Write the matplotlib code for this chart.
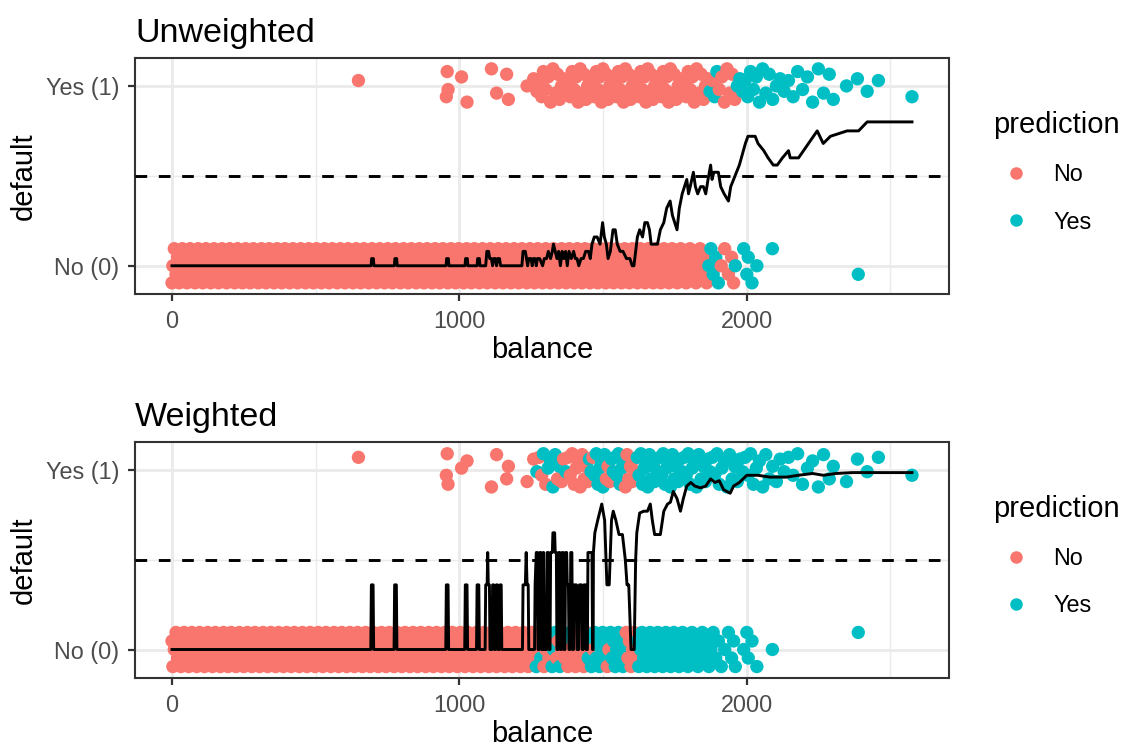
import numpy as np
import matplotlib
matplotlib.use('Agg')
import matplotlib.pyplot as plt
from matplotlib.lines import Line2D

plt.rcParams['font.family'] = ['Liberation Sans', 'DejaVu Sans']

RED = '#F8766D'
CYAN = '#00BFC4'

# balance of customers who did not default (default = 0)
no_balance = [
    0, 3, 8, 14, 19, 25, 31, 36, 42, 47, 52, 58, 63, 69, 74, 80, 86, 91, 96,
    102, 107, 113, 118, 124, 129, 135, 141, 146, 151, 157, 162, 168, 174, 179, 184, 190, 195,
    201, 206, 212, 218, 223, 228, 234, 239, 245, 250, 256, 262, 267, 272, 278, 283, 289, 294,
    300, 305, 311, 317, 322, 327, 333, 338, 344, 349, 355, 361, 366, 371, 377, 382, 388, 393, 399,
    404, 410, 415, 421, 426, 432, 437, 443, 448, 454, 459, 465, 470, 476, 481, 487, 492, 498,
    503, 509, 514, 520, 525, 531, 536, 542, 547, 553, 558, 564, 569, 575, 580, 586, 591, 597,
    602, 608, 613, 619, 624, 630, 635, 641, 646, 652, 657, 663, 668, 674, 679, 685, 690, 696,
    701, 707, 712, 718, 723, 729, 734, 740, 745, 751, 756, 762, 767, 773, 778, 784, 789, 795,
    800, 806, 811, 817, 822, 828, 833, 839, 844, 850, 855, 861, 866, 872, 877, 883, 888, 894, 899,
    905, 910, 916, 921, 927, 932, 938, 943, 949, 954, 960, 965, 971, 976, 982, 987, 993, 998,
    1004, 1009, 1015, 1020, 1026, 1031, 1037, 1042, 1048, 1053, 1059, 1064, 1070, 1075, 1081, 1086, 1092, 1097,
    1103, 1108, 1114, 1119, 1125, 1130, 1136, 1141, 1147, 1152, 1158, 1163, 1169, 1174, 1180, 1185, 1191, 1196,
    1202, 1207, 1213, 1218, 1224, 1229, 1235, 1240, 1246, 1251, 1257, 1262, 1268, 1273, 1279, 1284, 1290, 1295,
    1301, 1306, 1312, 1317, 1323, 1328, 1334, 1339, 1345, 1350, 1356, 1361, 1367, 1372, 1378, 1383, 1389, 1394,
    1400, 1405, 1411, 1416, 1422, 1427, 1433, 1438, 1444, 1449, 1455, 1460, 1466, 1471, 1477, 1482, 1488, 1493, 1499,
    1504, 1510, 1515, 1521, 1526, 1532, 1537, 1543, 1548, 1554, 1559, 1565, 1570, 1576, 1581, 1587, 1592, 1598,
    1603, 1609, 1614, 1620, 1625, 1631, 1636, 1642, 1647, 1653, 1658, 1664, 1669, 1675, 1680, 1686, 1691, 1697,
    1702, 1708, 1713, 1719, 1724, 1730, 1736, 1741, 1747, 1753, 1759, 1765, 1771, 1777, 1783, 1790, 1796,
    1803, 1810, 1817, 1824, 1831, 1838, 1846,
    1853, 1861, 1869, 1876, 1884, 1893, 1902, 1912, 1924, 1937, 1948, 1955, 1961,
    1990, 2001, 2006, 2019, 2036, 2090, 2389,
]

# balance of customers who defaulted (default = 1)
yes_balance = [
    649, 955, 958, 961, 1008, 1027, 1112, 1130, 1165, 1171, 1236, 1259,
    1270, 1278, 1287, 1293, 1301, 1309, 1318, 1326, 1334, 1342, 1349, 1356, 1363, 1371,
    1379, 1386, 1393, 1400, 1407, 1414, 1421, 1428, 1435, 1441, 1447, 1453, 1459, 1465,
    1471, 1477, 1483, 1489, 1495, 1500, 1506, 1512, 1518, 1524, 1530, 1536, 1542, 1548,
    1554, 1560, 1566, 1572, 1578, 1584, 1590, 1596, 1602, 1608, 1614, 1620, 1626, 1632,
    1638, 1644, 1650, 1656, 1662, 1668, 1674, 1680, 1686, 1692, 1698, 1704, 1710, 1716,
    1722, 1729, 1735, 1742, 1748, 1755, 1762, 1769, 1776, 1783, 1790, 1797, 1804, 1811,
    1818, 1826, 1834, 1842, 1850, 1857, 1865, 1873, 1881, 1889, 1897, 1905, 1914, 1923,
    1932, 1941, 1950, 1959, 1968, 1977, 1986, 1995, 2004, 2014, 2024, 2034, 2045, 2056,
    2067, 2079, 2091, 2104, 2117, 2131, 2146, 2162, 2178, 2195, 2212, 2230, 2250, 2268,
    2288, 2302, 2348, 2386, 2420, 2459, 2576,
]

# fitted P(default) along balance, (balance, probability)
unweighted_curve = [
    (0, 0), (693, 0), (695, 0.04), (701, 0.04), (703, 0),
    (774, 0), (776, 0.04), (782, 0.04), (784, 0),
    (954, 0), (956, 0.04), (962, 0.04), (964, 0),
    (1020, 0), (1022, 0.04), (1028, 0.04), (1030, 0),
    (1062, 0), (1064, 0.04), (1070, 0.04), (1072, 0),
    (1092, 0), (1096, 0.08), (1102, 0.08), (1106, 0.04), (1112, 0.04), (1116, 0),
    (1120, 0.04), (1126, 0.04), (1130, 0), (1134, 0.04), (1140, 0.04), (1144, 0),
    (1218, 0), (1222, 0.08), (1230, 0.08), (1234, 0.04), (1238, 0), (1242, 0.04),
    (1250, 0.04), (1254, 0), (1258, 0.04), (1264, 0.04), (1268, 0), (1272, 0.04),
    (1280, 0.04), (1290, 0), (1296, 0.04), (1304, 0.04), (1310, 0.08), (1318, 0.04),
    (1324, 0.08), (1328, 0.12), (1334, 0.08), (1340, 0.04), (1346, 0.08), (1352, 0),
    (1358, 0.08), (1364, 0.04), (1370, 0.08), (1376, 0), (1382, 0.08), (1390, 0.04),
    (1398, 0.08), (1404, 0.04), (1410, 0.04), (1416, 0), (1424, 0.04), (1432, 0.04),
    (1440, 0.08), (1450, 0.08), (1456, 0.04), (1462, 0.12), (1470, 0.16), (1480, 0.16),
    (1490, 0.12), (1499, 0.24), (1505, 0.16), (1512, 0.12), (1518, 0.04), (1526, 0.08),
    (1535, 0.2), (1543, 0.2), (1550, 0.12), (1560, 0.08), (1570, 0.08), (1582, 0.04),
    (1594, 0.04), (1602, 0), (1608, 0), (1614, 0.08), (1620, 0.16), (1628, 0.2),
    (1638, 0.16), (1646, 0.24), (1655, 0.24), (1662, 0.2), (1668, 0.12), (1690, 0.12),
    (1700, 0.2), (1712, 0.24), (1722, 0.32), (1734, 0.36), (1742, 0.28), (1750, 0.24),
    (1758, 0.2), (1766, 0.32), (1776, 0.4), (1784, 0.44), (1792, 0.48), (1798, 0.4),
    (1804, 0.44), (1815, 0.52), (1822, 0.44), (1830, 0.4), (1840, 0.44), (1850, 0.44),
    (1858, 0.4), (1866, 0.48), (1875, 0.56), (1880, 0.48), (1886, 0.52), (1902, 0.52),
    (1910, 0.44), (1922, 0.4), (1937, 0.36), (1945, 0.44), (1955, 0.48), (1965, 0.52),
    (1975, 0.56), (1982, 0.6), (1989, 0.64), (1996, 0.68), (2005, 0.72), (2030, 0.72),
    (2040, 0.68), (2060, 0.64), (2075, 0.6), (2093, 0.56), (2107, 0.56), (2125, 0.6),
    (2146, 0.64), (2152, 0.6), (2181, 0.6), (2246, 0.75), (2267, 0.68), (2292, 0.72),
    (2350, 0.75), (2390, 0.75), (2420, 0.8), (2576, 0.8),
]

weighted_curve = [
    (0, 0), (692, 0), (694, 0.36), (700, 0.36), (702, 0),
    (773, 0), (775, 0.36), (781, 0.36), (783, 0),
    (953, 0), (955, 0.36), (961, 0.36), (963, 0),
    (1019, 0), (1021, 0.36), (1027, 0.36), (1029, 0),
    (1060, 0), (1062, 0.36), (1068, 0.36), (1070, 0),
    (1090, 0), (1092, 0.36), (1097, 0.36), (1099, 0.54), (1101, 0.36), (1105, 0.36), (1107, 0),
    (1114, 0), (1116, 0.36), (1120, 0.36), (1122, 0), (1127, 0), (1129, 0.36), (1133, 0.36),
    (1135, 0), (1140, 0), (1142, 0.36), (1146, 0.36), (1148, 0),
    (1220, 0), (1222, 0.36), (1230, 0.36), (1233, 0.54), (1236, 0.36), (1240, 0.36), (1242, 0),
    (1262, 0), (1264, 0.36), (1268, 0.54), (1272, 0.54), (1274, 0), (1278, 0), (1280, 0.54),
    (1284, 0.54), (1286, 0), (1290, 0), (1292, 0.54), (1294, 0.54), (1296, 0), (1304, 0),
    (1306, 0.54), (1310, 0.54), (1312, 0), (1316, 0), (1318, 0.54), (1324, 0.54), (1326, 0.65),
    (1332, 0.65), (1334, 0.54), (1338, 0.54), (1340, 0), (1344, 0), (1346, 0.54), (1350, 0.54),
    (1352, 0), (1356, 0), (1358, 0.54), (1362, 0.54), (1364, 0), (1368, 0), (1370, 0.54),
    (1374, 0.54), (1376, 0.36), (1380, 0.36), (1382, 0), (1386, 0), (1388, 0.54), (1392, 0.54),
    (1394, 0), (1398, 0), (1400, 0.36), (1408, 0.36), (1410, 0), (1416, 0), (1418, 0.36),
    (1426, 0.36), (1428, 0), (1432, 0), (1434, 0.36), (1440, 0.36), (1442, 0), (1446, 0),
    (1448, 0.54), (1462, 0.54), (1464, 0), (1466, 0), (1467, 0.54), (1472, 0.65), (1482, 0.72),
    (1496, 0.81), (1506, 0.72), (1514, 0.36), (1522, 0.36), (1530, 0.72), (1536, 0.77),
    (1545, 0.72), (1556, 0.64), (1568, 0.64), (1578, 0.5), (1584, 0.36), (1590, 0.36),
    (1598, 0), (1609, 0), (1614, 0.5), (1618, 0.65), (1628, 0.76), (1642, 0.77), (1655, 0.77),
    (1665, 0.81), (1672, 0.72), (1680, 0.64), (1700, 0.64), (1712, 0.77), (1725, 0.81),
    (1735, 0.82), (1745, 0.88), (1758, 0.84), (1770, 0.77), (1780, 0.84), (1792, 0.91),
    (1806, 0.93), (1820, 0.91), (1840, 0.9), (1858, 0.91), (1875, 0.95), (1890, 0.93),
    (1905, 0.94), (1920, 0.89), (1943, 0.87), (1955, 0.91), (1975, 0.93), (2001, 0.97),
    (2040, 0.97), (2080, 0.96), (2140, 0.96), (2180, 0.97), (2230, 0.98), (2268, 0.97),
    (2310, 0.98), (2370, 0.985), (2576, 0.985),
]

panels = [('Unweighted', unweighted_curve), ('Weighted', weighted_curve)]

# vertical jitter (like geom_jitter), a fixed pattern per panel
band_jitter = [[-0.095, 0.0, 0.095, -0.0475, 0.0475],
               [0.0475, -0.095, 0.0, 0.095, -0.0475]]
yes_jitter = [[0.03, -0.06, 0.08, -0.02, 0.05, -0.09, 0.095, -0.04, 0.065, -0.075, 0.0, 0.04, -0.03],
              [0.07, -0.03, 0.09, -0.08, 0.01, 0.05, -0.095, 0.085, -0.05, 0.02, -0.065, 0.06, -0.01]]

W, H = 1123, 747
fig = plt.figure(figsize=(W / 100, H / 100), dpi=100)
boxes = [(135, 57.7, 949, 294), (135, 441.7, 949, 677.7)]

xb = np.array(no_balance + yes_balance, dtype=float)
yb = np.array([0] * len(no_balance) + [1] * len(yes_balance), dtype=float)

for k, (title, curve) in enumerate(panels):
    l, t, r, b = boxes[k]
    ax = fig.add_axes([l / W, 1 - b / H, (r - l) / W, (b - t) / H])

    cb = np.array([c[0] for c in curve], dtype=float)
    cp = np.array([c[1] for c in curve], dtype=float)

    jit = np.concatenate([np.resize(band_jitter[k], len(no_balance)),
                          np.resize(yes_jitter[k], len(yes_balance))])
    pred = np.interp(xb, cb, cp) > 0.5
    colors = np.where(pred, CYAN, RED)

    ax.scatter(xb, yb + jit, s=92, c=colors, linewidths=0, zorder=2)
    ax.plot(cb, cp, color='black', lw=2.1, zorder=3)
    ax.axhline(0.5, color='black', lw=2.1, dashes=(4, 4), zorder=4)

    ax.set_xlim(-128.8, 2704.8)
    ax.set_ylim(-0.157, 1.157)
    ax.set_xticks([0, 1000, 2000])
    ax.set_xticks([500, 1500, 2500], minor=True)
    ax.set_yticks([0, 1])
    ax.set_yticklabels(['No (0)', 'Yes (1)'])
    ax.set_yticks([0.5], minor=True)

    ax.set_axisbelow(True)
    ax.grid(which='major', color='#EBEBEB', lw=2.1)
    ax.grid(which='minor', color='#EBEBEB', lw=1.05)
    for s in ax.spines.values():
        s.set_color('#333333')
        s.set_linewidth(1.5)
    ax.tick_params(which='major', length=5.25, width=1.6, color='#333333',
                   labelcolor='#4D4D4D', labelsize=16.8)
    ax.tick_params(which='minor', length=0)
    ax.tick_params(axis='x', pad=6.5)
    ax.tick_params(axis='y', pad=6)

    ax.set_xlabel('balance', fontsize=21, labelpad=1.8)
    ax.set_ylabel('default', fontsize=21, labelpad=6)
    ax.set_title(title, loc='left', fontsize=24.5, pad=11.5)

    handles = [Line2D([], [], marker='o', ls='', ms=9, color=RED, mec='none'),
               Line2D([], [], marker='o', ls='', ms=9, color=CYAN, mec='none')]
    ax.legend(handles, ['No', 'Yes'], title='prediction', loc='center left',
              bbox_to_anchor=(1.054, 0.515), frameon=False, fontsize=16.8,
              title_fontsize=21, borderpad=0, borderaxespad=0, handlelength=1.97,
              handletextpad=0.63, labelspacing=1.04, alignment='left')

fig.savefig('out.png', dpi=100)
